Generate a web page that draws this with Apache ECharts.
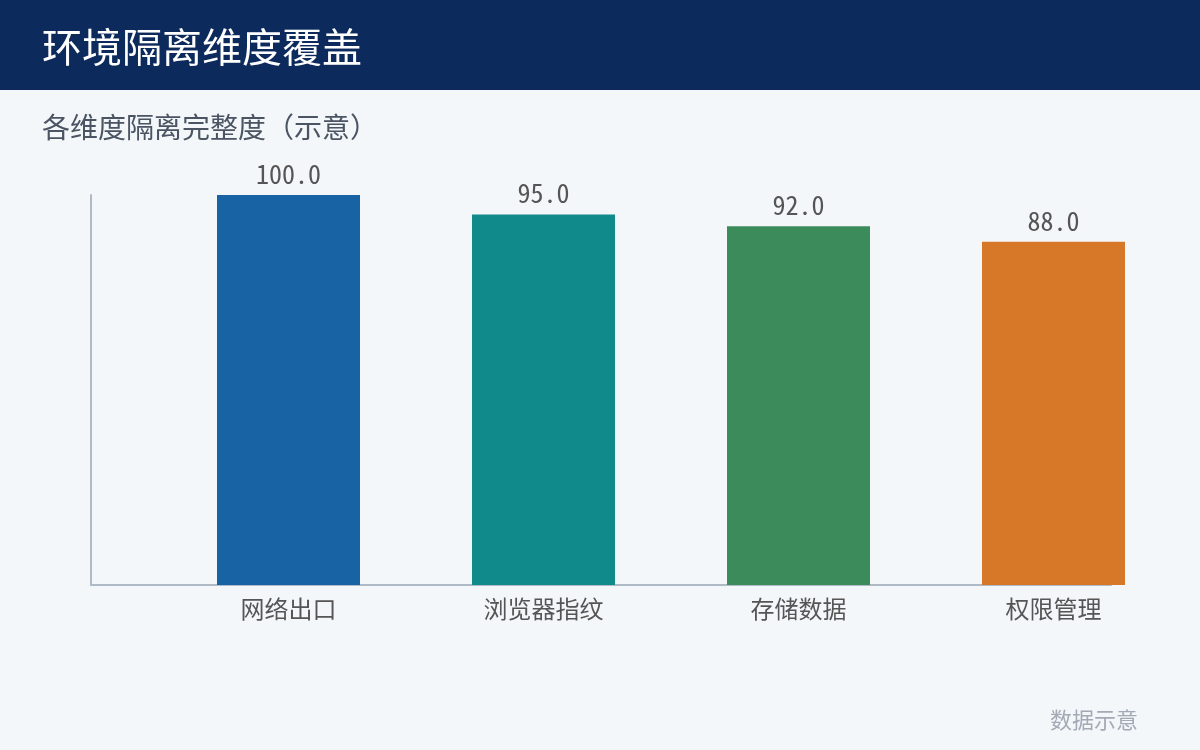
<!DOCTYPE html>
<html>
<head>
<meta charset="utf-8">
<script src="https://cdn.jsdelivr.net/npm/echarts@6/dist/echarts.min.js"></script>
<style>
html,body{margin:0;padding:0;background:#f4f7fa;}
#main{width:1200px;height:750px;}
</style>
</head>
<body>
<div id="main"></div>
<script>
const categories = ['网络出口', '浏览器指纹', '存储数据', '权限管理'];
const values = [100.0, 95.0, 92.0, 88.0];
const barColors = ['#1763a3', '#118a8c', '#3b8b5b', '#d77828'];

const FONT = '"Noto Sans Mono CJK SC", "Noto Sans CJK SC", sans-serif';
const chart = echarts.init(document.getElementById('main'));
chart.setOption({
  backgroundColor: '#f4f7fa',
  animation: false,
  graphic: [
    { type: 'rect', left: 0, top: 0, z: -1, shape: { width: 1200, height: 90 }, style: { fill: '#0c2a5c' } },
    { type: 'text', right: 62, top: 709, style: { text: '数据示意', fill: '#a3aab5', font: '22px ' + FONT } }
  ],
  title: [
    { text: '环境隔离维度覆盖', left: 37, top: 22, textStyle: { color: '#ffffff', fontSize: 40, fontWeight: 'normal', fontFamily: FONT } },
    { text: '各维度隔离完整度（示意）', left: 37, top: 108, textStyle: { color: '#4a5462', fontSize: 28, fontWeight: 'normal', fontFamily: FONT } }
  ],
  grid: [
    { left: 161, right: 19, top: 195, bottom: 165 },
    { left: 91, right: 89, top: 195, bottom: 165 }
  ],
  xAxis: [
    {
      type: 'category', data: categories, gridIndex: 0,
      axisLine: { show: false }, axisTick: { show: false },
      axisLabel: { color: '#555555', fontSize: 24, fontFamily: FONT, margin: 12 }
    },
    {
      type: 'value', gridIndex: 1, min: 0, max: 1,
      axisLine: { show: true, lineStyle: { color: '#b0bac6', width: 2 } },
      axisTick: { show: false }, axisLabel: { show: false }, splitLine: { show: false }
    }
  ],
  yAxis: [
    {
      type: 'value', gridIndex: 0, min: 0, max: 100, offset: 70,
      axisLine: { show: true, lineStyle: { color: '#b0bac6', width: 2 } },
      axisTick: { show: false }, axisLabel: { show: false }, splitLine: { show: false }
    },
    { type: 'value', gridIndex: 1, show: false, min: 0, max: 1 }
  ],
  series: [{
    type: 'bar',
    xAxisIndex: 0, yAxisIndex: 0,
    barWidth: 143,
    data: values.map((v, i) => ({ value: v, itemStyle: { color: barColors[i] } })),
    label: {
      show: true, position: 'top', distance: 8,
      color: '#555555', fontSize: 26, fontFamily: FONT,
      formatter: p => p.value.toFixed(1)
    }
  }]
});
</script>
</body>
</html>
